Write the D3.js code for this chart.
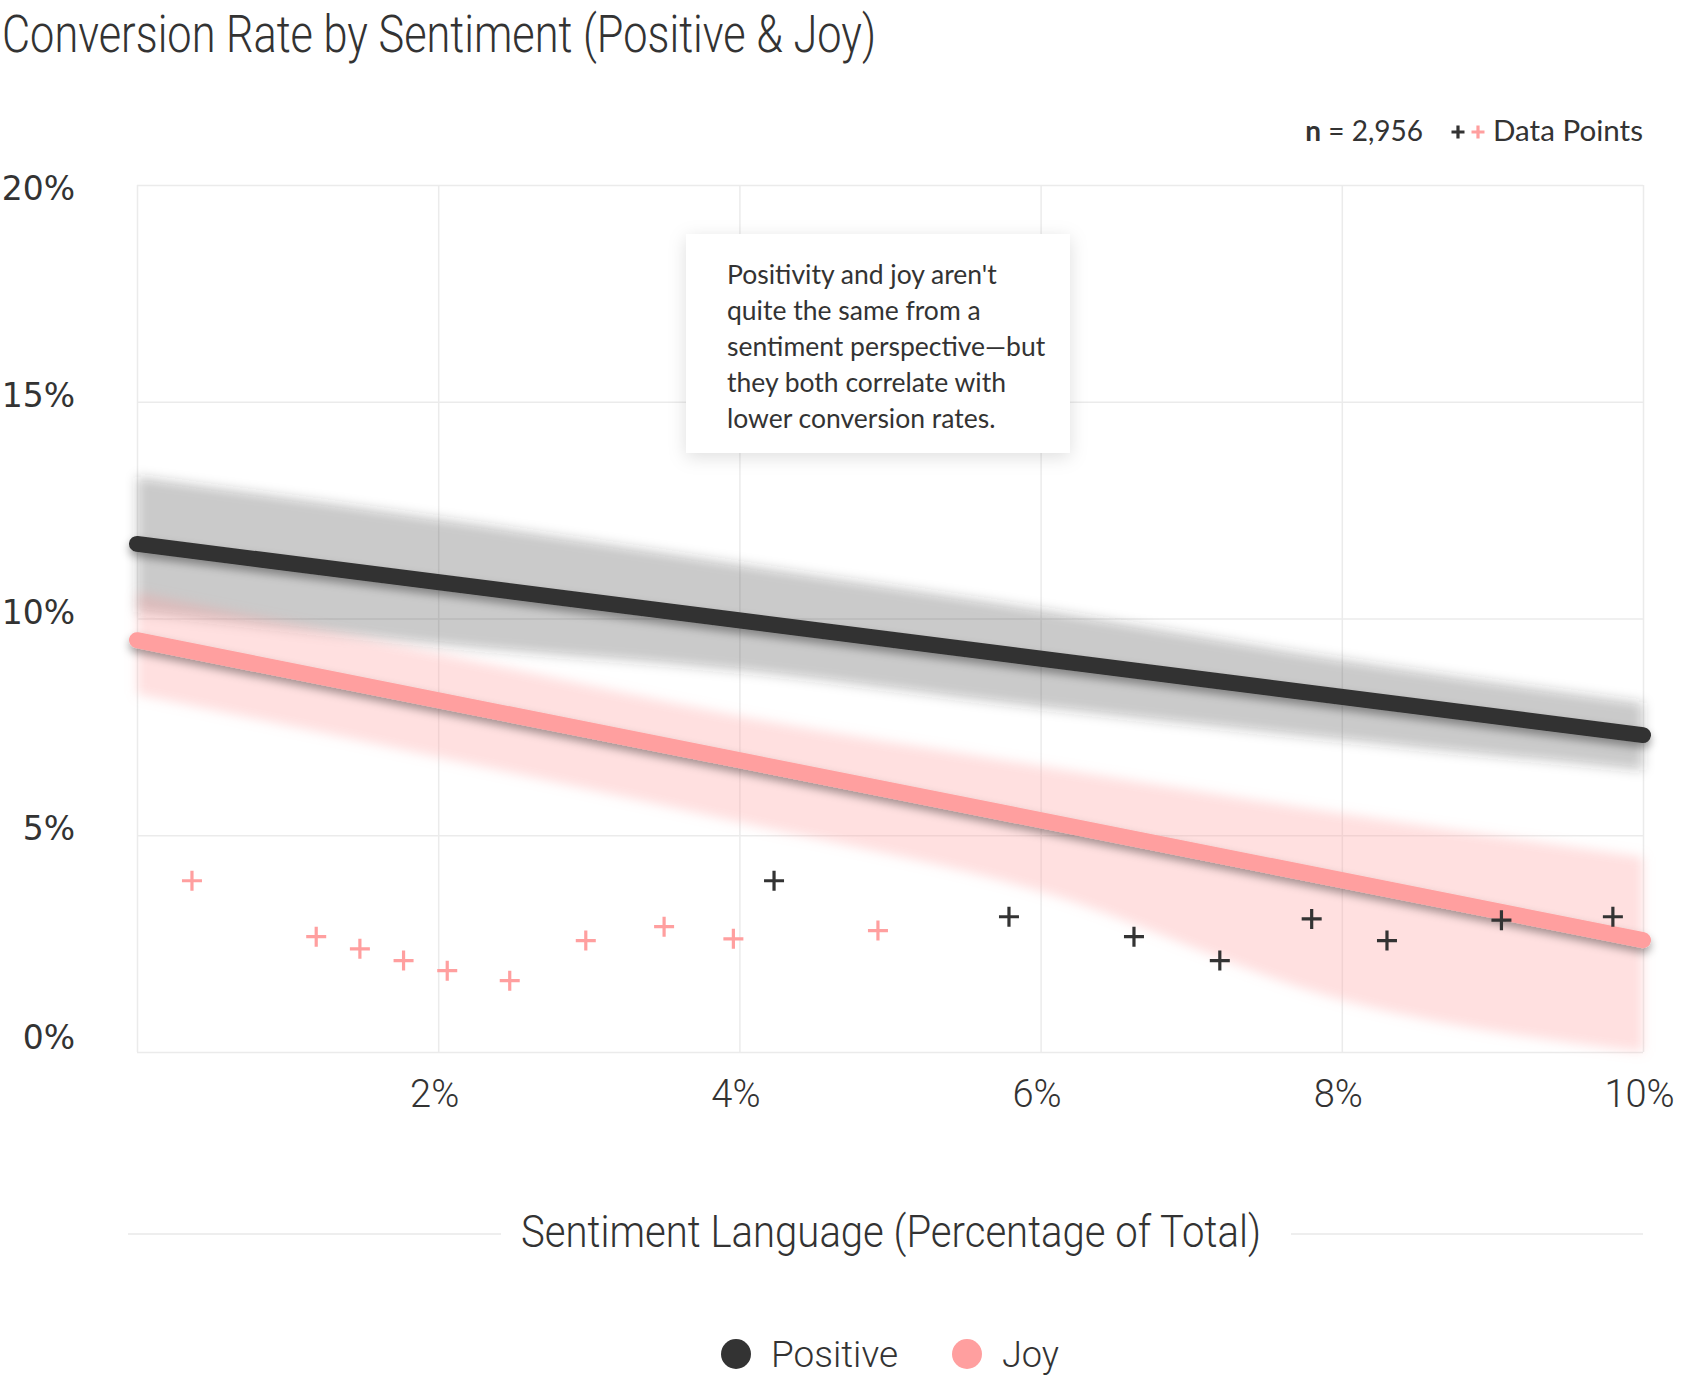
<!DOCTYPE html>
<html lang="en">
<head>
<meta charset="utf-8">
<title>Conversion Rate by Sentiment</title>
<script src="https://d3js.org/d3.v7.min.js"></script>
<style>
  body { margin: 0; background: #fff; }
  svg text { fill: #333; }
</style>
</head>
<body>
<script>
// values, all in percent
var xTicks = [0, 2, 4, 6, 8, 10];
var yTicks = [0, 5, 10, 15, 20];

var fitX = [0, 10];
var positiveFit = [11.72, 7.31];
var joyFit = [9.5, 2.58];

var bandX = [0, 2, 4, 6, 8, 10];
var positiveUpper = [13.27, 12.3, 11.25, 10.2, 9.05, 8.05];
var positiveLower = [10.15, 9.4, 8.8, 7.95, 7.2, 6.5];
var joyUpper = [10.6, 9.2, 7.75, 6.6, 5.5, 4.5];
var joyLower = [8.25, 6.8, 5.3, 3.7, 1.2, -1.0];

var joyX = [0.365, 1.19, 1.48, 1.77, 2.06, 2.475, 2.98, 3.5, 3.96, 4.92];
var joyY = [3.95, 2.66, 2.38, 2.11, 1.875, 1.645, 2.57, 2.89, 2.61, 2.8];
var positiveX = [4.23, 5.79, 6.62, 7.19, 7.8, 8.3, 9.06, 9.8];
var positiveY = [3.95, 3.12, 2.66, 2.11, 3.07, 2.57, 3.04, 3.12];

var seriesNames = ["Positive", "Joy"];
var sampleSize = "2,956";
var noteLines = [
  "Positivity and joy aren't",
  "quite the same from a",
  "sentiment perspective\u2014but",
  "they both correlate with",
  "lower conversion rates."
];

var W = 1708, H = 1395;
var plotLeft = 137, plotRight = 1643, plotTop = 185, plotBottom = 1052;
var dark = "#333333", pink = "#ff9f9f";

var svg = d3.select("body").append("svg")
    .attr("width", W)
    .attr("height", H);

var x = d3.scaleLinear().domain([0, 10]).range([plotLeft, plotRight]);
var y = d3.scaleLinear().domain([0, 20]).range([plotBottom, plotTop]);
var yBand = y.copy().clamp(true);

var defs = svg.append("defs");
var blur = defs.append("filter").attr("id", "bandBlur")
    .attr("x", "-5%").attr("y", "-30%").attr("width", "110%").attr("height", "160%");
blur.append("feGaussianBlur").attr("stdDeviation", 6);

var shadow = defs.append("filter").attr("id", "lineShadow")
    .attr("x", "-5%").attr("y", "-50%").attr("width", "110%").attr("height", "200%");
shadow.append("feDropShadow").attr("dx", 0).attr("dy", 5).attr("stdDeviation", 4)
    .attr("flood-color", "#000").attr("flood-opacity", 0.35);

var boxShadow = defs.append("filter").attr("id", "boxShadow")
    .attr("x", "-20%").attr("y", "-20%").attr("width", "140%").attr("height", "140%");
boxShadow.append("feDropShadow").attr("dx", 0).attr("dy", 4).attr("stdDeviation", 9)
    .attr("flood-color", "#000").attr("flood-opacity", 0.13);

// gridlines
svg.append("g")
    .attr("transform", "translate(0," + plotBottom + ")")
    .call(d3.axisBottom(x).tickValues(xTicks).tickSize(-(plotBottom - plotTop)).tickFormat(""))
    .call(function(g) {
        g.select(".domain").remove();
        g.selectAll("line").attr("stroke", "#ebebeb").attr("stroke-width", 1.5);
    });

svg.append("g")
    .attr("transform", "translate(" + plotLeft + ",0)")
    .call(d3.axisLeft(y).tickValues(yTicks).tickSize(-(plotRight - plotLeft)).tickFormat(""))
    .call(function(g) {
        g.select(".domain").remove();
        g.selectAll("line").attr("stroke", "#ebebeb").attr("stroke-width", 1.5);
    });

// confidence bands
function bandData(lo, hi) {
    return bandX.map(function(d, i) { return { x: d, lo: lo[i], hi: hi[i] }; });
}
var area = d3.area()
    .x(function(d) { return x(d.x); })
    .y0(function(d) { return yBand(d.lo); })
    .y1(function(d) { return yBand(d.hi); })
    .curve(d3.curveMonotoneX);

svg.append("path")
    .datum(bandData(positiveLower, positiveUpper))
    .attr("d", area)
    .attr("fill", dark)
    .attr("fill-opacity", 0.26)
    .attr("filter", "url(#bandBlur)");

svg.append("path")
    .datum(bandData(joyLower, joyUpper))
    .attr("d", area)
    .attr("fill", pink)
    .attr("fill-opacity", 0.32)
    .attr("filter", "url(#bandBlur)");

// fit lines
var line = d3.line()
    .x(function(d) { return x(d.x); })
    .y(function(d) { return y(d.y); });

[[positiveFit, dark], [joyFit, pink]].forEach(function(s) {
    svg.append("path")
        .datum(fitX.map(function(d, i) { return { x: d, y: s[0][i] }; }))
        .attr("d", line)
        .attr("fill", "none")
        .attr("stroke", s[1])
        .attr("stroke-width", 16)
        .attr("stroke-linecap", "round")
        .attr("filter", "url(#lineShadow)");
});

// data points (+)
var plus = "M-10,0H10M0,-10V10";
function drawPoints(xs, ys, color) {
    svg.append("g").selectAll("path")
        .data(xs.map(function(d, i) { return { x: d, y: ys[i] }; }))
        .enter()
        .append("path")
        .attr("d", plus)
        .attr("transform", function(d) { return "translate(" + x(d.x) + "," + y(d.y) + ")"; })
        .attr("stroke", color)
        .attr("stroke-width", 3.2)
        .attr("fill", "none");
}
drawPoints(joyX, joyY, pink);
drawPoints(positiveX, positiveY, dark);

// axis labels
svg.append("g")
    .attr("transform", "translate(0," + plotBottom + ")")
    .call(d3.axisBottom(x).tickValues(xTicks.filter(function(d) { return d > 0; }))
        .tickSize(0).tickFormat(function(d) { return d + "%"; }))
    .call(function(g) {
        g.select(".domain").remove();
        g.selectAll("text")
            .attr("y", 55).attr("dy", null).attr("x", -4)
            .attr("font-family", "Roboto").attr("font-weight", 300)
            .attr("font-size", 38).attr("fill", "#333");
    });

// y labels sit a little unevenly in the original: top one lower, bottom one higher
svg.append("g")
    .attr("transform", "translate(" + plotLeft + ",0)")
    .call(d3.axisLeft(y).tickValues(yTicks).tickSize(0).tickPadding(62)
        .tickFormat(function(d) { return d + "%"; }))
    .call(function(g) {
        g.select(".domain").remove();
        g.selectAll("text")
            .attr("y", function(d) { return d === 20 ? 4 : (d === 0 ? -14 : -6); })
            .attr("font-family", "DejaVu Sans")
            .attr("font-size", 33).attr("fill", "#333");
    });

// title
svg.append("text")
    .attr("x", 2).attr("y", 52)
    .attr("font-family", "Roboto").attr("font-weight", 300)
    .attr("font-size", 51)
    .attr("textLength", 874).attr("lengthAdjust", "spacingAndGlyphs")
    .text("Conversion Rate by Sentiment (Positive & Joy)");

// top-right note: n and data-point key
var nText = svg.append("text")
    .attr("x", 1423).attr("y", 141)
    .attr("text-anchor", "end")
    .attr("font-family", "Lato").attr("font-size", 28);
nText.append("tspan").attr("font-weight", 700).text("n");
nText.append("tspan").text(" = " + sampleSize);

svg.append("path").attr("d", "M-6.5,0H6.5M0,-6.5V6.5")
    .attr("transform", "translate(1458,132)")
    .attr("stroke", dark).attr("stroke-width", 3.2);
svg.append("path").attr("d", "M-6.5,0H6.5M0,-6.5V6.5")
    .attr("transform", "translate(1478,132)")
    .attr("stroke", pink).attr("stroke-width", 3.2);
svg.append("text")
    .attr("x", 1643).attr("y", 141)
    .attr("text-anchor", "end")
    .attr("font-family", "Lato").attr("font-size", 28)
    .attr("textLength", 150).attr("lengthAdjust", "spacingAndGlyphs")
    .text("Data Points");

// annotation
svg.append("rect")
    .attr("x", 686).attr("y", 234)
    .attr("width", 384).attr("height", 219)
    .attr("fill", "#fff")
    .attr("filter", "url(#boxShadow)");

svg.append("g").selectAll("text")
    .data(noteLines)
    .enter()
    .append("text")
    .attr("x", 727)
    .attr("y", function(d, i) { return 284 + i * 36; })
    .attr("font-family", "Lato").attr("font-size", 26.5)
    .text(function(d) { return d; });

// x-axis title with rules either side
svg.append("text")
    .attr("x", 521).attr("y", 1247)
    .attr("font-family", "Roboto").attr("font-weight", 300)
    .attr("font-size", 45)
    .attr("textLength", 740).attr("lengthAdjust", "spacingAndGlyphs")
    .text("Sentiment Language (Percentage of Total)");

svg.append("line")
    .attr("x1", plotLeft - 9).attr("x2", 501)
    .attr("y1", 1234).attr("y2", 1234)
    .attr("stroke", "#e8e8e8").attr("stroke-width", 1.5);
svg.append("line")
    .attr("x1", 1291).attr("x2", plotRight)
    .attr("y1", 1234).attr("y2", 1234)
    .attr("stroke", "#e8e8e8").attr("stroke-width", 1.5);

// legend
var legend = svg.append("g").attr("transform", "translate(736,1354)");
var legendX = [0, 231];
var legendLen = [127, 57];
seriesNames.forEach(function(name, i) {
    var g = legend.append("g").attr("transform", "translate(" + legendX[i] + ",0)");
    g.append("circle").attr("r", 15).attr("fill", i === 0 ? dark : pink);
    g.append("text")
        .attr("x", 35).attr("y", 13)
        .attr("font-family", "Roboto").attr("font-weight", 300)
        .attr("font-size", 37)
        .attr("textLength", legendLen[i]).attr("lengthAdjust", "spacingAndGlyphs")
        .text(name);
});
</script>
</body>
</html>
